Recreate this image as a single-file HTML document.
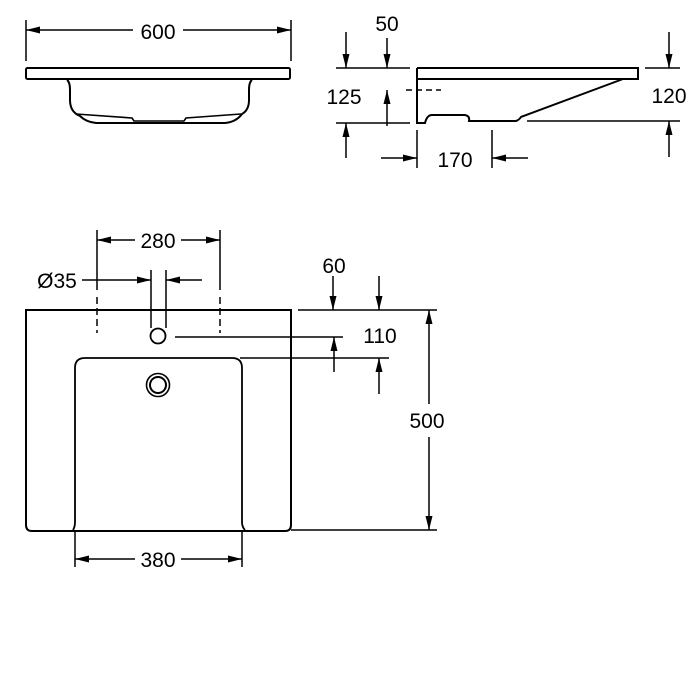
<!DOCTYPE html>
<html><head><meta charset="utf-8"><style>
html,body{margin:0;padding:0;background:#fff}
svg{display:block}
text{font-family:"Liberation Sans",sans-serif;font-size:21px;fill:#000}
</style></head><body>
<svg width="700" height="700" viewBox="0 0 700 700" xmlns="http://www.w3.org/2000/svg">
<defs>
<marker id="a" viewBox="0 0 14 7" refX="14" refY="3.5" markerWidth="14" markerHeight="7" markerUnits="userSpaceOnUse" orient="auto"><path d="M0,0 L14,3.5 L0,7 z" fill="#000"/></marker>
</defs>
<g stroke="#000" stroke-width="1.5" fill="none">
<!-- top front view -->
<line x1="26" y1="20" x2="26" y2="61"/><line x1="291" y1="20" x2="291" y2="61"/>
<line x1="133" y1="30" x2="26" y2="30" marker-end="url(#a)"/>
<line x1="183" y1="30" x2="291" y2="30" marker-end="url(#a)"/>
<rect x="26" y="68" width="264" height="11" rx="1.5" stroke-width="2"/>
<path d="M67,80 Q70,82 70,90 L70,100 Q70,112 80,116 Q86,122 96,123 L225,123 Q236,122 242,114 Q249,110 249,100 L249,90 Q249,82 252,80" stroke-width="2"/>
<path d="M76,114 L132,118 L134,121 L184,121 L186,118 L241,114" stroke-width="1.6"/>
<!-- side view -->
<line x1="336" y1="68" x2="410" y2="68"/><line x1="336" y1="123" x2="410" y2="123"/>
<line x1="346" y1="32" x2="346" y2="68" marker-end="url(#a)"/>
<line x1="387" y1="38" x2="387" y2="68" marker-end="url(#a)"/>
<line x1="387" y1="126" x2="387" y2="90" marker-end="url(#a)"/>
<line x1="346" y1="158" x2="346" y2="123" marker-end="url(#a)"/>
<line x1="406" y1="90" x2="441" y2="90" stroke-dasharray="6,4"/>
<path d="M417,68 L638,68 L638,79 L417,79" stroke-width="2"/>
<path d="M417,68 L417,123 L425,123 Q427,115 432,115 L465,115 Q470,116 469,121 L516,121 Q519,120 521,117 L623,79" stroke-width="2"/>
<line x1="645" y1="68" x2="680" y2="68"/><line x1="527" y1="121" x2="680" y2="121"/>
<line x1="669" y1="32" x2="669" y2="68" marker-end="url(#a)"/>
<line x1="669" y1="157" x2="669" y2="121" marker-end="url(#a)"/>
<line x1="417" y1="130" x2="417" y2="168"/><line x1="492" y1="130" x2="492" y2="168"/>
<line x1="381" y1="158" x2="417" y2="158" marker-end="url(#a)"/>
<line x1="528" y1="158" x2="492" y2="158" marker-end="url(#a)"/>
<!-- plan view -->
<path d="M26,310 L291,310 L291,525 Q291,531 285,531 L32,531 Q26,531 26,525 Z" stroke-width="2"/>
<path d="M73,530 Q75,527 75,522 L75,368 Q75,358 85,358 L232,358 Q242,358 242,368 L242,522 Q242,527 245,530" stroke-width="1.8"/>
<circle cx="158" cy="336" r="7.5" stroke-width="1.8"/>
<circle cx="158" cy="385" r="11.5" stroke-width="1.6"/>
<circle cx="158" cy="385" r="8" stroke-width="2"/>
<line x1="97" y1="230" x2="97" y2="290"/><line x1="220" y1="230" x2="220" y2="290"/>
<line x1="97" y1="297" x2="97" y2="333" stroke-dasharray="7,4"/><line x1="220" y1="297" x2="220" y2="333" stroke-dasharray="7,4"/>
<line x1="135" y1="240" x2="97" y2="240" marker-end="url(#a)"/>
<line x1="181" y1="240" x2="220" y2="240" marker-end="url(#a)"/>
<line x1="151" y1="270" x2="151" y2="328"/><line x1="166" y1="270" x2="166" y2="328"/>
<line x1="82" y1="280" x2="151" y2="280" marker-end="url(#a)"/>
<line x1="202" y1="280" x2="166" y2="280" marker-end="url(#a)"/>
<line x1="298" y1="310" x2="437" y2="310"/>
<line x1="333" y1="276" x2="333" y2="310" marker-end="url(#a)"/>
<line x1="379" y1="276" x2="379" y2="310" marker-end="url(#a)"/>
<line x1="175" y1="337" x2="343" y2="337"/>
<line x1="240" y1="358" x2="389" y2="358"/>
<line x1="334" y1="372" x2="334" y2="337" marker-end="url(#a)"/>
<line x1="379" y1="394" x2="379" y2="358" marker-end="url(#a)"/>
<line x1="291" y1="530" x2="437" y2="530"/>
<line x1="429" y1="404" x2="429" y2="310" marker-end="url(#a)"/>
<line x1="429" y1="437" x2="429" y2="530" marker-end="url(#a)"/>
<line x1="75" y1="530" x2="75" y2="567"/><line x1="242" y1="530" x2="242" y2="567"/>
<line x1="135" y1="559" x2="75" y2="559" marker-end="url(#a)"/>
<line x1="181" y1="559" x2="242" y2="559" marker-end="url(#a)"/>
</g>
<g text-anchor="middle">
<text x="158" y="39">600</text>
<text x="387" y="31">50</text>
<text x="344" y="104">125</text>
<text x="669" y="103">120</text>
<text x="455" y="167">170</text>
<text x="158" y="248">280</text>
<text x="57" y="288">Ø35</text>
<text x="334" y="273">60</text>
<text x="380" y="343">110</text>
<text x="427" y="428">500</text>
<text x="158" y="567">380</text>
</g>
</svg>
</body></html>
